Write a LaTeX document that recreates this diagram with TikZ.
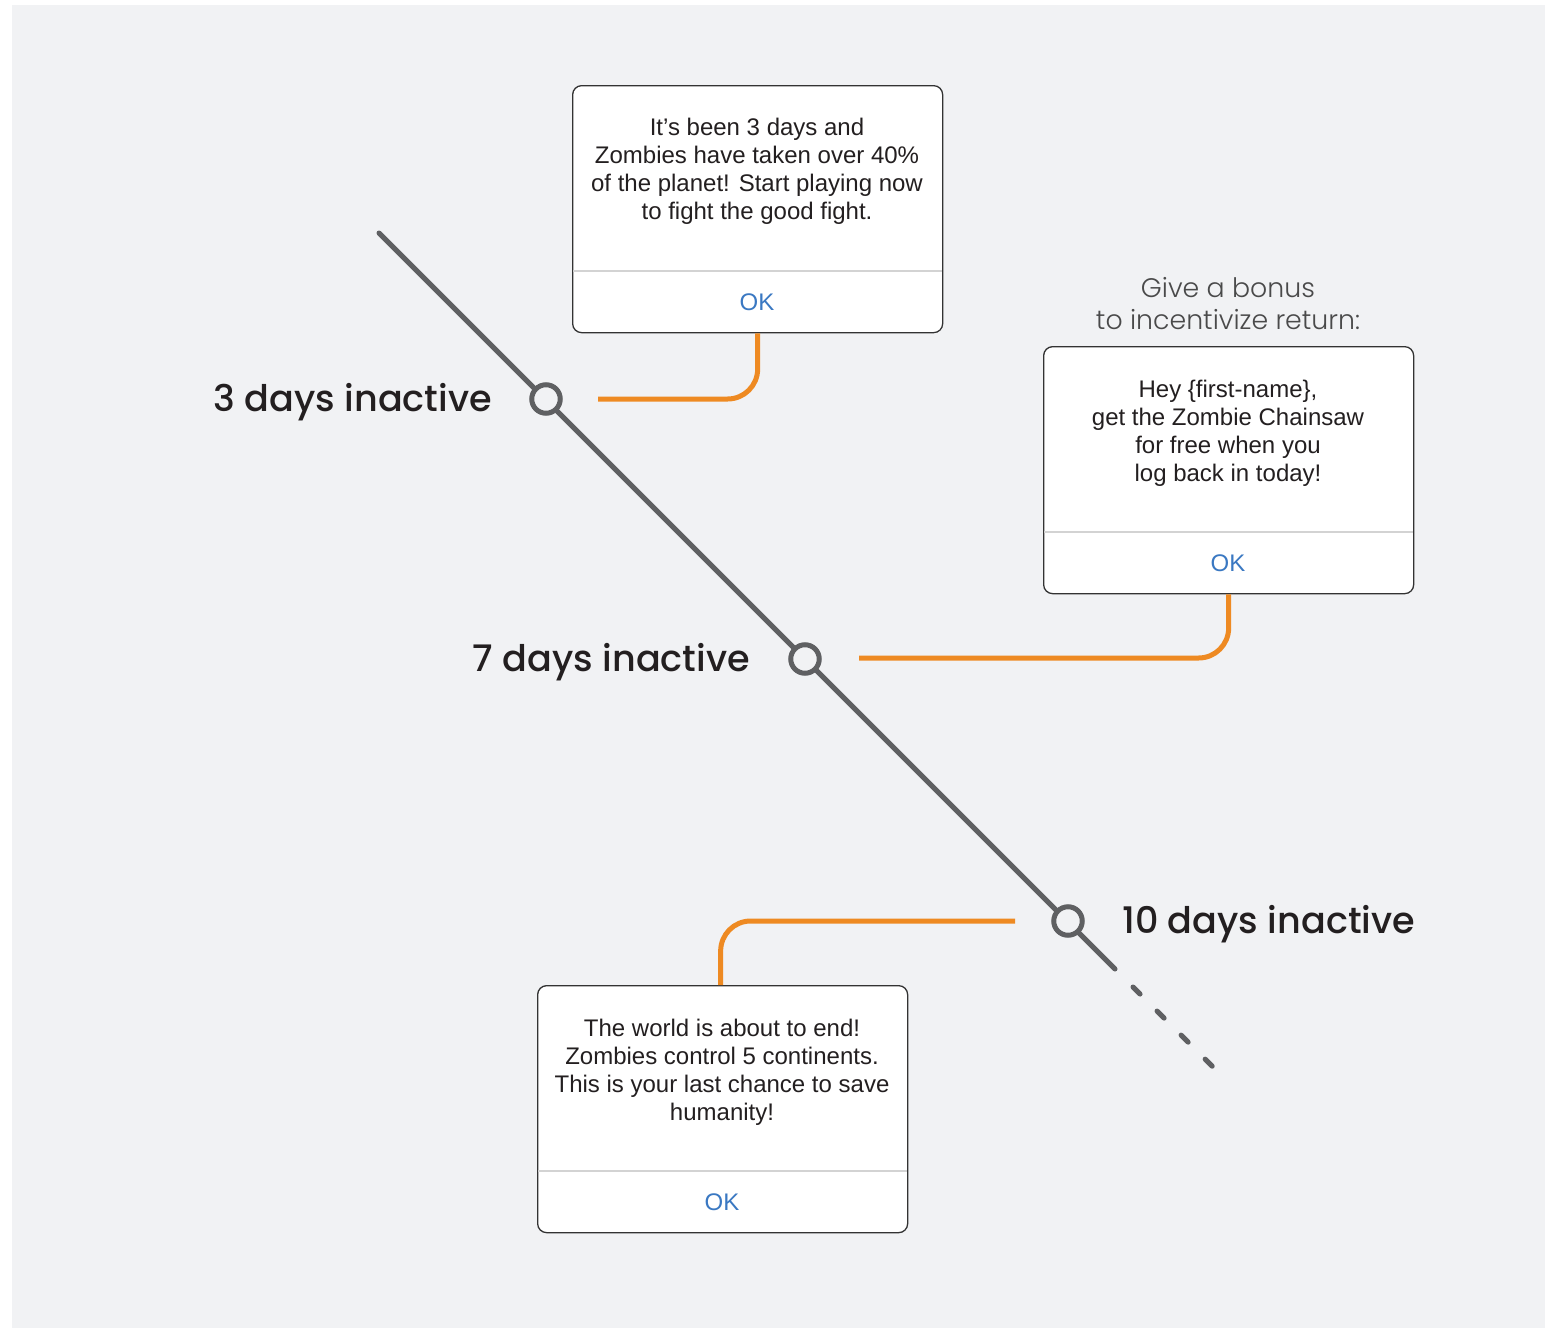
\documentclass[tikz,border=0pt]{standalone}
\usepackage{fontspec}
\setmainfont{Liberation Sans}
\newfontfamily\headfont{Poppins}[UprightFont={* Medium}]
\newfontfamily\lightfont{Poppins}[UprightFont={* Light}]
\definecolor{panel}{HTML}{F1F2F4}
\definecolor{rail}{HTML}{5F6062}
\definecolor{orange}{HTML}{EE8A22}
\definecolor{okblue}{HTML}{3A78C2}
\definecolor{boxline}{HTML}{333333}
\definecolor{divline}{HTML}{D3D3D3}
\definecolor{labeltext}{HTML}{231F20}
\definecolor{titletext}{HTML}{4A4A4A}
\tikzset{
  railline/.style={draw=rail, line width=5pt, line cap=round},
  raildash/.style={draw=rail, line width=5pt, line cap=round, dash pattern=on 10pt off 24pt},
  stop/.style={circle, draw=rail, line width=5pt, fill=panel, minimum size=28.5pt, inner sep=0pt},
  conn/.style={draw=orange, line width=5pt, rounded corners=30pt},
  msgbox/.style={rectangle, draw=boxline, line width=1.3pt, fill=white, rounded corners=9pt,
    minimum width=370pt, minimum height=247pt, anchor=north west, inner sep=0pt},
  divider/.style={draw=divline, line width=1.3pt},
  msgtext/.style={align=center, text=labeltext, font=\fontsize{24}{28}\selectfont, inner sep=0pt},
  oktext/.style={text=okblue, font=\fontsize{24}{28}\selectfont, inner sep=0pt},
  daylabel/.style={text=labeltext, font=\headfont\fontsize{36.6}{44}\selectfont, inner sep=0pt},
  titlelabel/.style={align=center, text=titletext, font=\lightfont\fontsize{26.8}{32}\selectfont, inner sep=0pt}
}
\begin{document}
\begin{tikzpicture}[x=1pt,y=-1pt]
\useasboundingbox (0,0) rectangle (1551,1328);
\fill[white] (0,0) rectangle (1551,1328);
\fill[panel] (12,5) rectangle (1545,1328);

% rail
\coordinate (rs) at (379,233);
\coordinate (re) at (1115,969);
\coordinate (ds) at (1133,987);
\coordinate (de) at (1213,1067);
\draw[railline] (rs) -- (re);
\draw[raildash] (ds) -- (de);
\node[stop] (c1) at (546,399) {};
\node[stop] (c2) at (805,659) {};
\node[stop] (c3) at (1068,921) {};

% labels
\node[daylabel, anchor=east] (l1) at (492,402) {3 days inactive};
\node[daylabel, anchor=east] (l2) at (750,662) {7 days inactive};
\node[daylabel, anchor=west] (l3) at (1122,924) {10 days inactive};

% boxes
\node[msgbox] (b1) at (572,85) {};
\node[msgbox] (b2) at (1043,346) {};
\node[msgbox] (b3) at (537,985) {};
\foreach \b in {b1,b2,b3}{
  \draw[divider] ([yshift=-186pt,xshift=1pt]\b.north west) -- ([yshift=-186pt,xshift=-1pt]\b.north east);
}

\node[msgtext] (t1) at (757,171) {It’s been 3 days and\\Zombies have taken over 40\%\\of the planet! Start playing now\\to fight the good fight.};
\node[oktext] (k1) at (757,302) {OK};

\node[titlelabel] (ti) at (1228,304) {Give a bonus\\to incentivize return:};
\node[msgtext] (t2) at (1228,433) {Hey \{first-name\},\\get the Zombie Chainsaw\\for free when you\\log back in today!};
\node[oktext] (k2) at (1228,563) {OK};

\node[msgtext] (t3) at (722,1072) {The world is about to end!\\Zombies control 5 continents.\\This is your last chance to save\\humanity!};
\node[oktext] (k3) at (722,1202) {OK};

% connectors
\coordinate (o1) at (598,399);
\coordinate (o2) at (859,658);
\coordinate (o3) at (1015,921);
\draw[conn] (o1) -| (b1.south);
\draw[conn] (o2) -| (b2.south);
\draw[conn] (o3) -| ([xshift=-2pt]b3.north);
\end{tikzpicture}
\end{document}
